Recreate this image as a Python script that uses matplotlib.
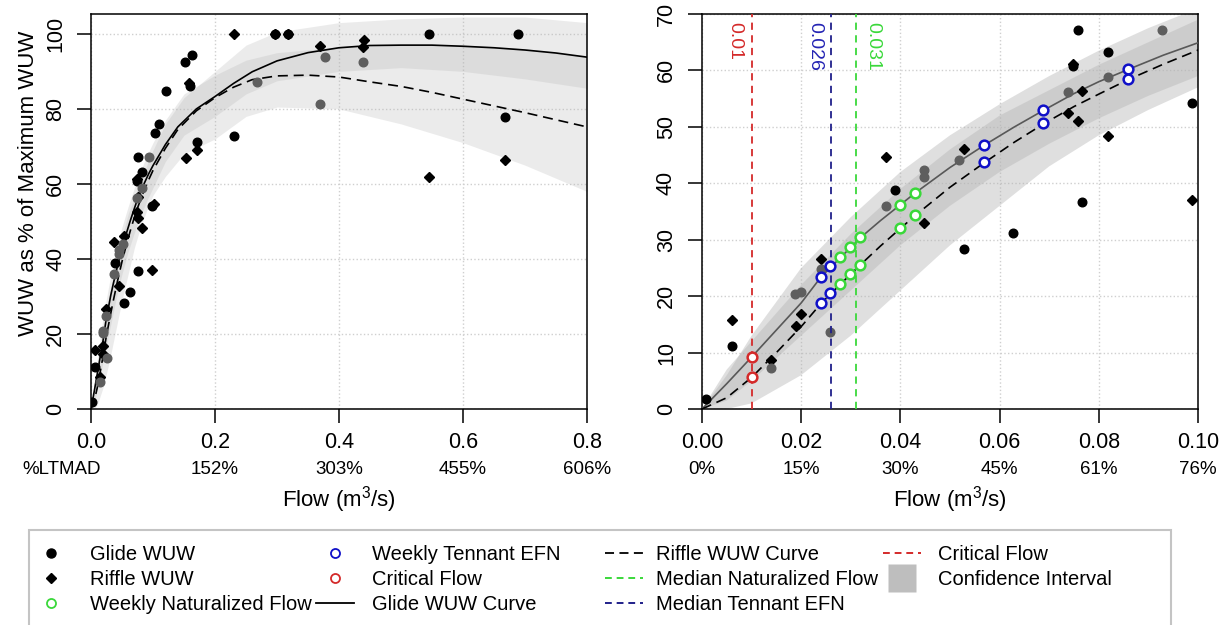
import matplotlib
matplotlib.use('Agg')
import matplotlib.pyplot as plt
from matplotlib.lines import Line2D
from matplotlib.patches import Rectangle

plt.rcParams['font.family'] = ['Liberation Sans', 'DejaVu Sans']
plt.rcParams['mathtext.fontset'] = 'custom'
plt.rcParams['mathtext.rm'] = 'Liberation Sans'
plt.rcParams['mathtext.it'] = 'Liberation Sans:italic'
plt.rcParams['mathtext.bf'] = 'Liberation Sans:bold'

# ---------------- data ----------------
glide_q = [0.0009, 0.006, 0.0389, 0.0529, 0.0628, 0.0748, 0.0758, 0.0766, 0.0818, 0.0988,
           0.104, 0.109, 0.121, 0.151, 0.160, 0.163, 0.171, 0.230, 0.297, 0.318, 0.545, 0.667, 0.688]
glide_y = [1.8, 11.1, 38.8, 28.3, 31.2, 60.8, 67.1, 36.7, 63.3, 54.2,
           73.6, 76.0, 84.8, 92.4, 86.1, 94.4, 71.3, 72.7, 100, 100, 100, 77.9, 100]

glide2_q = [0.014, 0.0188, 0.0200, 0.0240, 0.0259, 0.0370, 0.0448, 0.0448, 0.0519, 0.0738,
            0.0818, 0.0928, 0.268, 0.370, 0.377, 0.438]
glide2_y = [7.3, 20.3, 20.7, 24.8, 13.7, 35.9, 41.2, 42.3, 44.1, 56.2,
            58.8, 67.1, 87.2, 81.3, 93.8, 92.5]

riffle_q = [0.006, 0.014, 0.019, 0.020, 0.024, 0.037, 0.0448, 0.0529, 0.0738, 0.0748, 0.0758,
            0.0766, 0.0818, 0.0988, 0.102, 0.153, 0.158, 0.171, 0.230, 0.297, 0.318, 0.370,
            0.438, 0.441, 0.545, 0.667]
riffle_y = [15.7, 8.6, 14.7, 16.9, 26.6, 44.6, 32.9, 46.0, 52.4, 61.2, 51.0,
            56.4, 48.3, 37.1, 54.6, 67.0, 86.8, 69.0, 100, 100, 100, 96.9,
            96.4, 98.4, 61.9, 66.4]

curve_q = [0, 0.005, 0.01, 0.015, 0.02, 0.024, 0.028, 0.032, 0.036, 0.040, 0.043, 0.05,
           0.057, 0.063, 0.069, 0.075, 0.08, 0.086, 0.093, 0.10, 0.12, 0.14, 0.17, 0.20,
           0.23, 0.26, 0.30, 0.35, 0.40, 0.45, 0.50, 0.55, 0.60, 0.65, 0.70, 0.75, 0.80]
glide_curve = [0, 4.5, 9.2, 14.0, 18.8, 23.4, 26.9, 30.4, 33.4, 36.2, 38.3, 42.8,
               46.8, 50.0, 53.0, 55.9, 58.0, 60.2, 62.7, 64.9, 70.5, 75.2, 80.0, 83.3,
               86.8, 89.9, 92.8, 95.0, 96.3, 96.9, 97.0, 97.0, 96.7, 96.3, 95.7, 94.9, 93.8]
riffle_curve = [0, 2.0, 5.6, 10.0, 14.6, 18.7, 22.2, 25.6, 28.9, 32.0, 34.3, 39.3,
                43.7, 47.3, 50.6, 53.6, 55.8, 58.4, 61.1, 63.6, 69.5, 74.5, 79.5, 83.0,
                85.8, 87.8, 88.8, 89.0, 88.5, 87.2, 86.0, 84.4, 82.6, 80.8, 79.0, 77.1, 75.2]

band_q = [0, 0.005, 0.01, 0.02, 0.03, 0.04, 0.05, 0.06, 0.07, 0.08, 0.09, 0.10, 0.12, 0.15,
          0.20, 0.25, 0.30, 0.40, 0.50, 0.60, 0.70, 0.80]
glide_lo = [0, 1.5, 5, 13, 21, 29, 36, 42, 47, 51.5, 55.5, 59, 66, 73, 78, 84, 87.5, 90, 91, 90, 88, 85.5]
glide_hi = [0, 7, 12, 22, 31, 39, 46, 52, 56.5, 61, 65, 69, 76, 83, 90, 97, 100.5, 103, 104, 104.5, 104.5, 103]
riffle_lo = [0, 0, 1, 6, 13, 21, 29, 36, 43, 48.5, 53, 57, 62, 68, 72, 78, 80.5, 80, 76, 71, 65, 58]
riffle_hi = [0, 6, 13, 25, 34, 42, 48.5, 54, 59, 63.5, 67.5, 71, 77, 84, 89, 93, 95, 96.5, 97, 97, 96, 94]

crit_q = [0.010]
crit_glide = [9.2]
crit_riffle = [5.6]
tennant_q = [0.0240, 0.0259, 0.0569, 0.0687, 0.0858]
tennant_glide = [23.4, 25.3, 46.8, 53.0, 60.2]
tennant_riffle = [18.7, 20.5, 43.7, 50.6, 58.4]
nat_q = [0.0279, 0.0299, 0.0319, 0.0399, 0.0429]
nat_glide = [26.9, 28.7, 30.4, 36.2, 38.3]
nat_riffle = [22.2, 23.9, 25.6, 32.0, 34.3]

median_flows = [0.01, 0.026, 0.031]
median_labels = ['0.01', '0.026', '0.031']

left_xticks = [0.0, 0.2, 0.4, 0.6, 0.8]
left_pct = ['%LTMAD', '152%', '303%', '455%', '606%']
right_xticks = [0.00, 0.02, 0.04, 0.06, 0.08, 0.10]
right_pct = ['0%', '15%', '30%', '45%', '61%', '76%']

# ---------------- styles ----------------
RED = '#d42a2a'
BLUE = '#1010c8'
NAVY = '#20208a'
GREEN = '#3ad83a'
GREY_PT = '#5e5e5e'
BAND = '#b4b4b4'

W, H = 1231, 625
fig = plt.figure(figsize=(W / 100, H / 100), dpi=100)


def rect(x0, y0, x1, y1):
    return [x0 / W, 1 - y1 / H, (x1 - x0) / W, (y1 - y0) / H]


axL = fig.add_axes(rect(91, 14, 587, 409))
axR = fig.add_axes(rect(702, 14, 1198, 409))


def style(ax, xlim, ylim, xticks, yticks, fmt):
    ax.set_xlim(xlim)
    ax.set_ylim(ylim)
    ax.set_xticks(xticks)
    ax.set_xticklabels([fmt % v for v in xticks])
    ax.set_yticks(yticks)
    ax.tick_params(direction='out', length=10, width=1.1, labelsize=15.5, color='black')
    ax.tick_params(axis='x', pad=6.5)
    ax.tick_params(axis='y', pad=8, labelrotation=90)
    for lab in ax.get_yticklabels():
        lab.set_va('center')
    ax.grid(True, ls=':', color='#cfcfcf', lw=1.0)
    ax.set_axisbelow(True)
    for s in ax.spines.values():
        s.set_linewidth(1.1)


style(axL, (0, 0.8), (0, 105.3), left_xticks, [0, 20, 40, 60, 80, 100], '%.1f')
style(axR, (0, 0.1), (0, 70), right_xticks, [0, 10, 20, 30, 40, 50, 60, 70], '%.2f')

# bands
for ax, a in ((axL, 0.26), (axR, 0.42)):
    ax.fill_between(band_q, riffle_lo, riffle_hi, color=BAND, alpha=a, lw=0, zorder=1)
    ax.fill_between(band_q, glide_lo, glide_hi, color=BAND, alpha=a, lw=0, zorder=1)

# curves
axL.plot(curve_q, glide_curve, color='black', lw=1.2, zorder=3)
axL.plot(curve_q, riffle_curve, color='black', lw=1.2, ls=(0, (6, 3.5)), zorder=3)
axR.plot(curve_q, glide_curve, color='#585858', lw=1.2, zorder=3)
axR.plot(curve_q, riffle_curve, color='black', lw=1.2, ls=(0, (6, 3.5)), zorder=3)

# points
for ax in (axL, axR):
    ax.plot(riffle_q, riffle_y, ls='none', marker='D', ms=4.6, color='black', zorder=4)
    ax.plot(glide_q, glide_y, ls='none', marker='o', ms=6.2, color='black', zorder=4)
    ax.plot(glide2_q, glide2_y, ls='none', marker='o', ms=6.2, color=GREY_PT, zorder=4)

# vertical reference lines (right panel)
line_cols = [RED, NAVY, GREEN]
text_cols = [RED, '#2424b4', GREEN]
offsets = [-12, -12, 12]
for q, lab, lc, tc, off in zip(median_flows, median_labels, line_cols, text_cols, offsets):
    axR.axvline(q, color=lc, lw=1.3, ls=(0, (4, 3)), zorder=5)
    axR.annotate(lab, xy=(q, 1), xycoords=('data', 'axes fraction'), xytext=(off, -5.5),
                 textcoords='offset points', rotation=-90, ha='center', va='top',
                 color=tc, fontsize=14)

# open circles
oc = dict(ls='none', marker='o', ms=7, mfc='white', mew=1.8, zorder=6)
axR.plot(crit_q + crit_q, crit_glide + crit_riffle, mec=RED, **oc)
axR.plot(tennant_q + tennant_q, tennant_glide + tennant_riffle, mec=BLUE, **oc)
axR.plot(nat_q + nat_q, nat_glide + nat_riffle, mec=GREEN, **oc)

# secondary percentage labels and axis labels
for ax, ticks, labs in ((axL, left_xticks, left_pct), (axR, right_xticks, right_pct)):
    for i, (t, l) in enumerate(zip(ticks, labs)):
        x = t
        if l == '%LTMAD':
            x = -0.048
        ax.text(x, -0.154, l, transform=ax.get_xaxis_transform(), ha='center', va='center',
                fontsize=13.5, clip_on=False)
    ax.set_xlabel(r'Flow (m$^\mathregular{3}$/s)', fontsize=16)
    ax.xaxis.set_label_coords(0.5, -0.19)

axL.set_ylabel('WUW as % of Maximum WUW', fontsize=16)
axL.yaxis.set_label_coords(-0.127, 0.571)
axL.yaxis.label.set_va('center')

# ---------------- legend ----------------
def mk(**kw):
    return Line2D([], [], **kw)

h = {
    'Glide WUW': mk(ls='none', marker='o', ms=6.5, color='black'),
    'Riffle WUW': mk(ls='none', marker='D', ms=4.8, color='black'),
    'Weekly Naturalized Flow': mk(ls='none', marker='o', ms=6.5, mfc='none', mec=GREEN, mew=1.3),
    'Weekly Tennant EFN': mk(ls='none', marker='o', ms=6.5, mfc='none', mec=BLUE, mew=1.3),
    'Critical Flow': mk(ls='none', marker='o', ms=6.5, mfc='none', mec=RED, mew=1.3),
    'Glide WUW Curve': mk(color='black', lw=1.3),
    'Riffle WUW Curve': mk(color='black', lw=1.3, ls=(0, (5, 3))),
    'Median Naturalized Flow': mk(color=GREEN, lw=1.4, ls=(0, (3.5, 2.5))),
    'Median Tennant EFN': mk(color=NAVY, lw=1.4, ls=(0, (3.5, 2.5))),
    'Critical Flow ': mk(color=RED, lw=1.4, ls=(0, (3.5, 2.5))),
    'Confidence Interval': mk(ls='none', marker='s', ms=20, mfc='#bebebe', mec='none'),
}
columns = [
    (['Glide WUW', 'Riffle WUW', 'Weekly Naturalized Flow'], 32, 1.0),
    (['Weekly Tennant EFN', 'Critical Flow', 'Glide WUW Curve'], 316, 0.9),
    (['Riffle WUW Curve', 'Median Naturalized Flow', 'Median Tennant EFN'], 605, 0.65),
    (['Critical Flow ', 'Confidence Interval'], 883, 0.85),
]
for labels, x0, pad in columns:
    fig.legend([h[l] for l in labels], [l.strip() for l in labels], loc='upper left',
               bbox_to_anchor=(x0 / W, 1 - 545 / H), frameon=False, borderpad=0,
               borderaxespad=0, handlelength=1.9, handletextpad=pad, labelspacing=0.3,
               fontsize=14.5)

fig.add_artist(Rectangle((29 / W, -0.1), (1171 - 29) / W, 0.1 + (1 - 530 / H),
                         transform=fig.transFigure, fill=False, ec='#c4c4c4', lw=1.5))

fig.savefig('out.png', dpi=100)
